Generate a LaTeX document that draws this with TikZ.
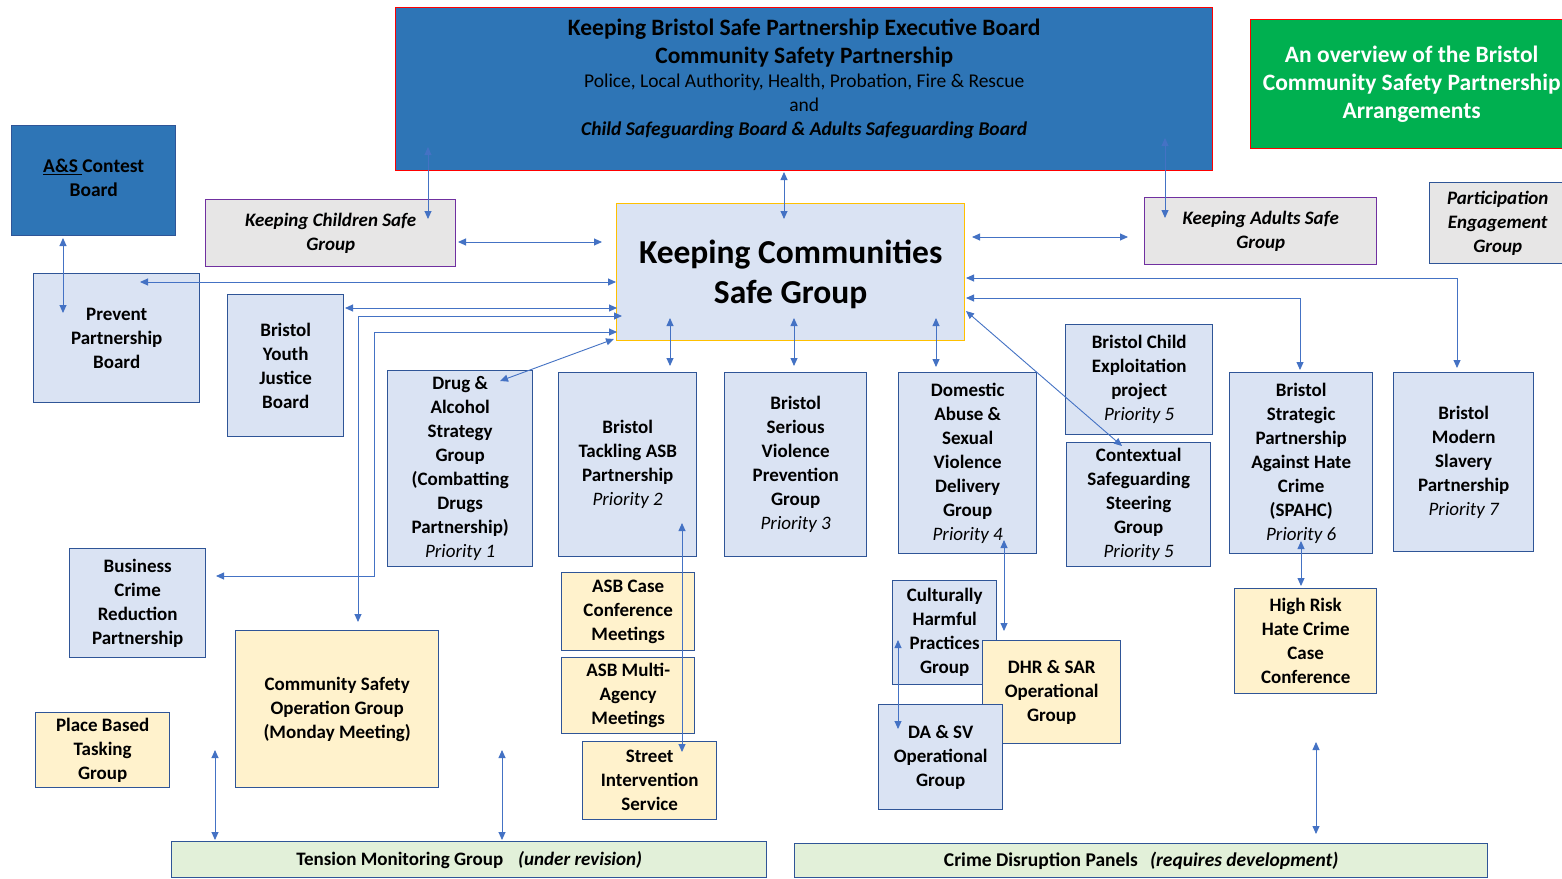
\documentclass[tikz,border=0pt]{standalone}
\usepackage{fontspec}
\setmainfont{Carlito}
\usetikzlibrary{arrows.meta}
\definecolor{execblue}{HTML}{2E75B6}
\definecolor{edgeblue}{HTML}{2F5597}
\definecolor{paleblue}{HTML}{DAE3F3}
\definecolor{paleyellow}{HTML}{FFF2CC}
\definecolor{palegreen}{HTML}{E2F0D9}
\definecolor{palegrey}{HTML}{E7E6E6}
\definecolor{groupviolet}{HTML}{7030A0}
\definecolor{goldedge}{HTML}{FFC000}
\definecolor{titlegreen}{HTML}{00B050}
\definecolor{linkblue}{HTML}{4472C4}
\newcommand\priorityline[1]{{\mdseries\itshape #1}}

\begin{document}
\begin{tikzpicture}[x=1pt,y=-1pt,
  box/.style={anchor=north west, inner sep=0pt, align=center, line width=1.4pt,
              font=\fontsize{19}{24}\selectfont\bfseries},
  bluebox/.style={box, draw=edgeblue, fill=paleblue},
  yellowbox/.style={box, draw=edgeblue, fill=paleyellow},
  greybox/.style={box, draw=groupviolet, fill=palegrey,
              font=\fontsize{19}{24}\selectfont\bfseries\itshape},
  greenbar/.style={box, draw=edgeblue, fill=palegreen,
              font=\fontsize{19}{22}\selectfont\bfseries},
  link/.style={draw=linkblue, line width=0.9pt,
              {Triangle[length=8pt,width=7pt]}-{Triangle[length=8pt,width=7pt]}}]

\fill[white] (0,0) rectangle (1562,878);
\useasboundingbox (0,0) rectangle (1562,878);

% ---- top level boards ----
\node[box, draw=red, fill=execblue, minimum width=817pt, minimum height=163pt,
      font=\fontsize{19.5}{24}\selectfont, text depth=24pt] (exec) at (395,7)
  {{\fontsize{23.5}{28}\selectfont\bfseries Keeping Bristol Safe Partnership Executive Board}\\[4pt]
   {\fontsize{23.5}{28}\selectfont\bfseries Community Safety Partnership}\\
   Police, Local Authority, Health, Probation, Fire \& Rescue\\
   and\\
   \textbf{\textit{Child Safeguarding Board \& Adults Safeguarding Board}}};

\node[box, draw=red, fill=titlegreen, text=white, minimum width=322pt, minimum height=129pt,
      font=\fontsize{23.5}{28}\selectfont\bfseries] (title) at (1250,19)
  {An overview of the Bristol\\Community Safety Partnership\\Arrangements};

\node[box, draw=edgeblue, fill=execblue, minimum width=164pt, minimum height=110pt,
      font=\fontsize{19.5}{24}\selectfont\bfseries, text depth=6pt] (ascb) at (11,125)
  {\underline{A\&S\ }Contest\\Board};

\node[greybox, minimum width=250pt, minimum height=67pt] (kcs) at (205,199)
  {Keeping Children Safe\\Group};
\node[greybox, minimum width=232pt, minimum height=67pt] (kas) at (1144,197)
  {Keeping Adults Safe\\Group};
\node[greybox, draw=edgeblue, minimum width=136pt, minimum height=81pt] (peg) at (1429,182)
  {Participation\\Engagement\\Group};

\node[box, draw=goldedge, fill=paleblue, minimum width=348pt, minimum height=137pt,
      font=\fontsize{33.5}{40}\selectfont\bfseries, text depth=1pt] (kcomm) at (616,203)
  {Keeping Communities\\Safe Group};

% ---- partnership groups ----
\node[bluebox, minimum width=166pt, minimum height=129pt] (prevent) at (33,273)
  {Prevent\\Partnership\\Board};
\node[bluebox, minimum width=116pt, minimum height=142pt] (byjb) at (227,294)
  {Bristol\\Youth\\Justice\\Board};
\node[bluebox, minimum width=145pt, minimum height=196pt] (drug) at (387,370)
  {Drug \&\\Alcohol\\Strategy\\Group\\(Combatting\\Drugs\\Partnership)\\\priorityline{Priority 1}};
\node[bluebox, minimum width=138pt, minimum height=184pt] (asb) at (558,372)
  {Bristol\\Tackling ASB\\Partnership\\\priorityline{Priority 2}};
\node[bluebox, minimum width=142pt, minimum height=184pt] (svp) at (724,372)
  {Bristol\\Serious\\Violence\\Prevention\\Group\\\priorityline{Priority 3}};
\node[bluebox, minimum width=138pt, minimum height=181pt] (dasv) at (898,372)
  {Domestic\\Abuse \&\\Sexual\\Violence\\Delivery\\Group\\\priorityline{Priority 4}};
\node[bluebox, minimum width=147pt, minimum height=110pt] (bcep) at (1065,324)
  {Bristol Child\\Exploitation\\project\\\priorityline{Priority 5}};
\node[bluebox, minimum width=144pt, minimum height=124pt] (cssg) at (1066,442)
  {Contextual\\Safeguarding\\Steering\\Group\\\priorityline{Priority 5}};
\node[bluebox, minimum width=143pt, minimum height=181pt] (spahc) at (1229,372)
  {Bristol\\Strategic\\Partnership\\Against Hate\\Crime\\(SPAHC)\\\priorityline{Priority 6}};
\node[bluebox, minimum width=140pt, minimum height=179pt] (msp) at (1393,372)
  {Bristol\\Modern\\Slavery\\Partnership\\\priorityline{Priority 7}};
\node[bluebox, minimum width=136pt, minimum height=109pt] (bcrp) at (69,548)
  {Business\\Crime\\Reduction\\Partnership};

% ---- operational groups ----
\node[yellowbox, minimum width=203pt, minimum height=157pt] (csog) at (235,630)
  {Community Safety\\Operation Group\\(Monday Meeting)};
\node[yellowbox, minimum width=134pt, minimum height=75pt] (pbtg) at (35,712)
  {Place Based\\Tasking\\Group};
\node[yellowbox, minimum width=133pt, minimum height=78pt] (asbcc) at (561,572)
  {ASB Case\\Conference\\Meetings};
\node[yellowbox, minimum width=133pt, minimum height=76pt] (asbma) at (561,657)
  {ASB Multi-\\Agency\\Meetings};
\node[yellowbox, minimum width=134pt, minimum height=78pt] (sis) at (582,741)
  {Street\\Intervention\\Service};
\node[bluebox, minimum width=104pt, minimum height=104pt] (chpg) at (892,580)
  {Culturally\\Harmful\\Practices\\Group};
\node[yellowbox, minimum width=138pt, minimum height=103pt] (dhr) at (982,640)
  {DHR \& SAR\\Operational\\Group};
\node[bluebox, minimum width=124pt, minimum height=105pt] (dasvop) at (878,704)
  {DA \& SV\\Operational\\Group};
\node[yellowbox, minimum width=142pt, minimum height=105pt] (hrhc) at (1234,588)
  {High Risk\\Hate Crime\\Case\\Conference};

% ---- panels along the bottom ----
\node[greenbar, minimum width=595pt, minimum height=36pt] (tmg) at (171,841)
  {Tension Monitoring Group\hspace{15pt}\textit{(under revision)}};
\node[greenbar, minimum width=693pt, minimum height=34pt, font=\fontsize{19.5}{22}\selectfont\bfseries] (cdp) at (794,843)
  {Crime Disruption Panels\hspace{12pt}\textit{(requires development)}};

% ---- connector end points ----
\coordinate (execA) at (428,147);  \coordinate (kcsA) at (428,219);
\coordinate (execB) at (784,172);  \coordinate (kcommA) at (784,219);
\coordinate (execC) at (1165,138); \coordinate (kasA) at (1165,218);
\coordinate (ascbA) at (63,238);   \coordinate (preventA) at (63,313);
\coordinate (kcsB) at (458,242);   \coordinate (kcommB) at (602,242);
\coordinate (preventB) at (140,282); \coordinate (kcommC) at (616,282);
\coordinate (byjbA) at (345,308);  \coordinate (kcommD) at (617,308);
\coordinate (kcommE) at (622,316); \coordinate (csogA) at (358,622);
\coordinate (kcommF) at (617,332); \coordinate (bcrpA) at (216,576);
\coordinate (kcommG) at (614,339); \coordinate (drugA) at (500,381);
\coordinate (kcommH) at (670,318); \coordinate (asbA) at (670,366);
\coordinate (kcommI) at (794,318); \coordinate (svpA) at (794,366);
\coordinate (kcommJ) at (936,318); \coordinate (dasvA) at (936,367);
\coordinate (kcommK) at (966,311); \coordinate (cssgA) at (1122,446);
\coordinate (kcommL) at (972,237); \coordinate (kasB) at (1128,237);
\coordinate (kcommM) at (966,278); \coordinate (mspA) at (1457,368);
\coordinate (kcommN) at (966,298); \coordinate (spahcA) at (1300,370);
\coordinate (spahcB) at (1301,541); \coordinate (hrhcA) at (1301,586);
\coordinate (asbB) at (682,523);   \coordinate (sisA) at (682,752);
\coordinate (dasvB) at (1004,540); \coordinate (dhrA) at (1004,631);
\coordinate (chpgA) at (898,640);  \coordinate (dasvopA) at (898,729);
\coordinate (tmgA) at (215,750);   \coordinate (tmgB) at (215,840);
\coordinate (tmgC) at (502,750);   \coordinate (tmgD) at (502,840);
\coordinate (cdpA) at (1316,742);  \coordinate (cdpB) at (1316,834);

% ---- connectors ----
\draw[link] (execA) -- (kcsA);
\draw[link] (execB) -- (kcommA);
\draw[link] (execC) -- (kasA);
\draw[link] (ascbA) -- (preventA);
\draw[link] (kcsB) -- (kcommB);
\draw[link] (preventB) -- (kcommC);
\draw[link] (byjbA) -- (kcommD);
\draw[link] (kcommE) -| (csogA);
\draw[link] (kcommF) -- (kcommF -| 374,0) |- (bcrpA);
\draw[link] (kcommG) -- (drugA);
\draw[link] (kcommH) -- (asbA);
\draw[link] (kcommI) -- (svpA);
\draw[link] (kcommJ) -- (dasvA);
\draw[link] (kcommK) -- (cssgA);
\draw[link] (kcommL) -- (kasB);
\draw[link] (kcommM) -| (mspA);
\draw[link] (kcommN) -| (spahcA);
\draw[link] (spahcB) -- (hrhcA);
\draw[link] (asbB) -- (sisA);
\draw[link] (dasvB) -- (dhrA);
\draw[link] (chpgA) -- (dasvopA);
\draw[link] (tmgA) -- (tmgB);
\draw[link] (tmgC) -- (tmgD);
\draw[link] (cdpA) -- (cdpB);
\end{tikzpicture}
\end{document}
